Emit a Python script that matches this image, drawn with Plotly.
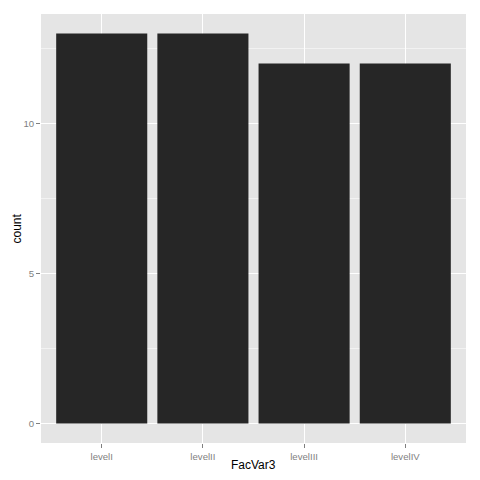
import plotly.graph_objects as go

categories = ["levelI", "levelII", "levelIII", "levelIV"]
counts = [13, 13, 12, 12]
y_ticks = [0, 5, 10]

W, H = 480, 480
L, R, T, B = 41, 14, 14, 37
pw, ph = W - L - R, H - T - B

fig = go.Figure(go.Bar(x=categories, y=counts, marker=dict(color="#262626", line=dict(width=0)),
                       width=0.9))

fig.update_layout(
    width=W, height=H,
    margin=dict(l=L, r=R, t=T, b=B),
    paper_bgcolor="white", plot_bgcolor="#E5E5E5",
    font=dict(family="Liberation Sans, Arial, sans-serif"),
    showlegend=False,
    annotations=[
        dict(text="FacVar3", xref="paper", yref="paper", x=0.5, y=(H - B - 465) / ph,
             xanchor="center", yanchor="middle", showarrow=False,
             font=dict(size=12, color="black")),
        dict(text="count", xref="paper", yref="paper", x=(16 - L) / pw, y=0.5,
             xanchor="center", yanchor="middle", showarrow=False, textangle=-90,
             font=dict(size=12, color="black")),
    ],
)
fig.update_xaxes(
    automargin=False,
    range=[-0.6, 3.6], showgrid=True, gridcolor="white", gridwidth=1,
    ticks="outside", ticklen=4, tickcolor="#7F7F7F", tickwidth=1,
    tickfont=dict(size=9.6, color="#7F7F7F"),
    zeroline=False, showline=False,
)
fig.update_yaxes(
    automargin=False,
    range=[-0.65, 13.65], tickvals=y_ticks, ticktext=[str(v) for v in y_ticks],
    showgrid=True, gridcolor="white", gridwidth=1,
    minor=dict(tickvals=[2.5, 7.5, 12.5], showgrid=True, gridcolor="#F2F2F2", gridwidth=0.5, ticks=""),
    ticks="outside", ticklen=4, tickcolor="#7F7F7F", tickwidth=1,
    tickfont=dict(size=9.6, color="#7F7F7F"),
    zeroline=False, showline=False,
)
fig.write_html("out.html", config={"displayModeBar": False},
               post_script="document.body.style.margin='0';document.body.style.overflow='hidden';")
